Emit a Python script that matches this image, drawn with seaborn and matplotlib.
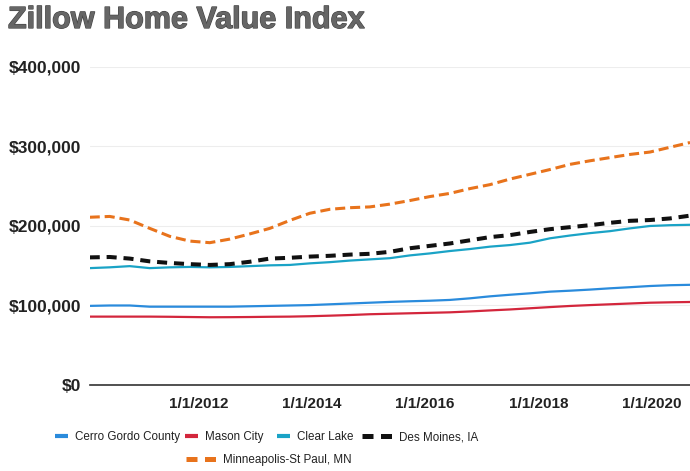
import pandas as pd
import seaborn as sns
import matplotlib.pyplot as plt
import matplotlib.patheffects as pe
from matplotlib.lines import Line2D
from matplotlib.ticker import FuncFormatter

# values, in thousands of dollars, roughly every 4 months
dates = pd.date_range("2010-02-01", "2020-09-01", periods=31)

minneapolis = [211, 212, 207.5, 197, 187, 181, 179, 183.5, 190, 197, 207, 216, 221, 223, 224,
               227.5, 232, 237, 241, 247, 252, 259, 265, 271, 277.5, 282, 286, 290, 293, 299, 305]
des_moines = [160.5, 161, 159, 155.5, 153.5, 152, 151, 152, 155, 159, 160, 161.5, 162.5, 164, 165,
              167.5, 172, 175, 178, 182, 186, 188.5, 192.5, 196, 198.5, 201, 204, 206.5, 207.5, 209.5, 213]
clear_lake = [147, 148, 149.5, 147, 148, 148.5, 148, 148.5, 149.5, 150.5, 151, 153, 154.5, 156.5, 158,
              159.5, 163, 165.5, 168.5, 171, 174, 176, 179, 184.5, 188, 191, 193.5, 197, 200, 201, 201.5]
cerro_gordo = [99.5, 100, 100, 98.5, 98.5, 98.5, 98.5, 98.5, 99, 99.5, 100, 100.5, 101.5, 102.5, 103.5,
               104.5, 105.3, 106, 107, 109, 111.5, 113.5, 115.3, 117.4, 118.6, 120, 121.6, 123, 124.5, 125.5, 126]
mason_city = [86, 86, 86, 86, 85.8, 85.5, 85.2, 85.3, 85.5, 85.8, 86, 86.5, 87.2, 88, 89,
              89.6, 90.2, 90.8, 91.4, 92.5, 93.8, 95, 96.5, 98, 99.4, 100.5, 101.5, 102.5, 103.5, 104, 104.4]

names = ["Cerro Gordo County", "Mason City", "Clear Lake", "Des Moines, IA", "Minneapolis-St Paul, MN"]
series = [cerro_gordo, mason_city, clear_lake, des_moines, minneapolis]
colors = ["#2a8bdc", "#d3263c", "#1aa3c6", "#111111", "#e8731c"]

xtick_dates = ["2012-01-01", "2014-01-01", "2016-01-01", "2018-01-01", "2020-01-01"]
xtick_labels = ["1/1/2012", "1/1/2014", "1/1/2016", "1/1/2018", "1/1/2020"]
yticks = [0, 100000, 200000, 300000, 400000]

df = pd.DataFrame({"date": dates})
for n, s in zip(names, series):
    df[n] = [v * 1000 for v in s]

sns.set_style("white")
plt.rcParams["font.family"] = ["Liberation Sans", "DejaVu Sans"]

fig = plt.figure(figsize=(6.9, 4.71), dpi=100)
ax = fig.add_axes([0.130, 0.1826, 0.870, 0.6752])

styles = {
    "Cerro Gordo County": dict(lw=1.6, ls="-"),
    "Mason City": dict(lw=1.6, ls="-"),
    "Clear Lake": dict(lw=1.6, ls="-"),
    "Des Moines, IA": dict(lw=2.9, ls=(0, (2.5, 1.7))),
    "Minneapolis-St Paul, MN": dict(lw=2.2, ls=(0, (3.3, 1.6))),
}
for n, c in zip(names, colors):
    sns.lineplot(data=df, x="date", y=n, ax=ax, color=c,
                 linewidth=styles[n]["lw"], linestyle=styles[n]["ls"])

ax.set_xlim(dates[0], dates[-1])
ax.set_ylim(0, 400000)
ax.set_yticks(yticks)
ax.yaxis.set_major_formatter(FuncFormatter(lambda v, p: f"${v:,.0f}"))
ax.set_xticks(pd.to_datetime(xtick_dates))
ax.set_xticklabels(xtick_labels)
ax.set_xlabel("")
ax.set_ylabel("")
ax.grid(axis="y", color="#ededed", lw=0.8)
ax.set_axisbelow(True)
for side in ["top", "right", "left"]:
    ax.spines[side].set_visible(False)
ax.spines["bottom"].set_color("#333333")
ax.spines["bottom"].set_linewidth(1.2)
ax.tick_params(axis="y", length=0, pad=6, labelsize=12.5, labelcolor="#222222")
ax.tick_params(axis="x", length=0, pad=9, labelsize=11, labelcolor="#222222")
for lab in ax.get_xticklabels() + ax.get_yticklabels():
    lab.set_fontweight("bold")

fig.text(8 / 690, 1 - 28 / 471, "Zillow Home Value Index", fontsize=22, fontweight="bold",
         color="#666666", va="baseline", ha="left",
         path_effects=[pe.withStroke(linewidth=0.9, foreground="#444444")])

# legend: one entry each so the handles can have different lengths
leg_pos = [(55, 437, 1.13), (185, 437, 1.13), (277, 437, 1.13), (362, 437, 2.6), (186, 460, 2.6)]
for n, c, (x0, y0, hl) in zip(names, colors, leg_pos):
    if styles[n]["ls"] == "-":
        h = Line2D([], [], color=c, lw=3, solid_capstyle="butt")
    else:
        h = Line2D([], [], color=c, lw=3.6, dashes=(2.2, 1.5), dash_capstyle="butt")
    fig.legend([h], [n], loc="center left", bbox_to_anchor=(x0 / 690, 1 - y0 / 471),
               frameon=False, borderpad=0, borderaxespad=0, handlelength=hl,
               handletextpad=0.55, prop={"size": 8.4}, labelcolor="#222222")

fig.savefig("out.png", dpi=100)
